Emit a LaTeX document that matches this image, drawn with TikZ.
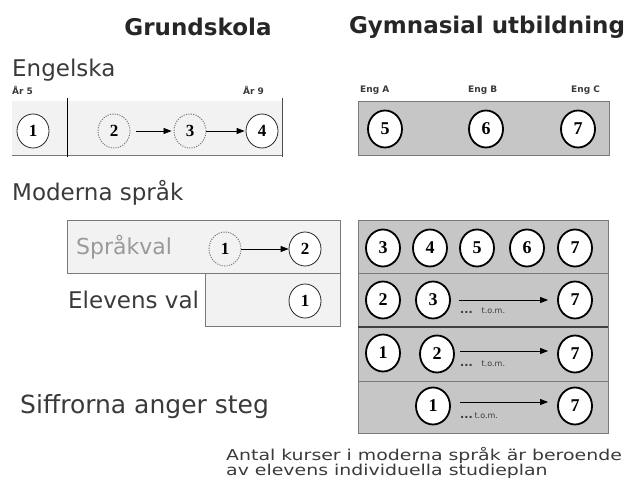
\documentclass[tikz,border=0pt]{standalone}
\usepackage{fontspec}
\setmainfont{DejaVu Sans}
\newfontfamily\numf{Liberation Serif}
\usetikzlibrary{shapes.geometric,arrows.meta}
\definecolor{boxgray}{HTML}{C6C6C6}
\definecolor{lightbox}{HTML}{F2F2F2}
\definecolor{edgegray}{HTML}{7A7A7A}
\definecolor{txtgray}{HTML}{9A9A9A}
\definecolor{txtdark}{HTML}{3A3A3A}
\begin{document}
\begin{tikzpicture}[x=1pt,y=-1pt,
  thinc/.style={ellipse,draw=black!85,line width=0.8pt,fill=white,minimum width=32pt,minimum height=34pt,inner sep=0pt,font=\numf\bfseries\fontsize{17}{17}\selectfont},
  dashc/.style={ellipse,draw=black!55,dash pattern=on 1.2pt off 1.2pt,line width=0.9pt,minimum width=32pt,minimum height=34pt,inner sep=0pt,font=\numf\bfseries\fontsize{17}{17}\selectfont},
  heavyc/.style={ellipse,draw=black,line width=1.8pt,fill=white,minimum width=34pt,minimum height=37pt,inner sep=0pt,font=\numf\bfseries\fontsize{18}{18}\selectfont},
  arr/.style={-{Triangle[length=8pt,width=6pt]},line width=0.8pt},
  head/.style={font=\bfseries\fontsize{23}{26}\selectfont,text=black!85,anchor=center},
  lab/.style={font=\fontsize{23}{26}\selectfont,text=txtdark,anchor=west,inner sep=0pt},
  small/.style={font=\bfseries\fontsize{9}{10}\selectfont,text=txtdark,inner sep=0pt},
  tom/.style={font=\fontsize{8}{9}\selectfont,text=txtdark,inner sep=0pt,anchor=west},
]
\useasboundingbox (0,0) rectangle (631,495);

% headings
\node[head] (hgr) at (198,27) {Grundskola};
\node[head] (hgy) at (487,27) {Gymnasial utbildning};
\node[lab] (eng) at (12,70) {Engelska};

% year / course labels
\node[small,anchor=west] (ar5) at (12,90) {År 5};
\node[small,anchor=west] (ar9) at (243,90) {År 9};
\node[small,anchor=west] (enga) at (360,90) {Eng  A};
\node[small,anchor=west] (engb) at (468,90) {Eng  B};
\node[small,anchor=west] (engc) at (571,90) {Eng  C};

% Engelska boxes
\fill[lightbox] (12,101) rectangle (282,155);
\draw[edgegray,line width=1pt] (12,155) -- (282,155);
\draw[black,line width=1pt] (67,98) -- (67,157);
\draw[black!70,line width=1pt] (282,98) -- (282,157);
\draw[edgegray,fill=boxgray,line width=1pt] (358,101) rectangle (609,155);

\node[thinc] (e1) at (33,131) {1};
\node[dashc] (e2) at (114,131) {2};
\node[dashc] (e3) at (190,131) {3};
\node[thinc] (e4) at (262,131) {4};
\draw[arr,shorten <=6pt,shorten >=2pt] (e2) -- (e3);
\draw[arr,shorten >=1pt] (e3) -- (e4);
\node[heavyc] (e5) at (385,129) {5};
\node[heavyc] (e6) at (486,129) {6};
\node[heavyc] (e7) at (578,129) {7};

% Moderna språk
\node[lab] (mod) at (12,193) {Moderna språk};
\draw[edgegray,fill=lightbox,line width=1pt] (67,220) rectangle (340,273);
\draw[edgegray,fill=lightbox,line width=1pt] (205,273) rectangle (340,326);
\node[lab,text=txtgray,font=\fontsize{22}{26}\selectfont] (sval) at (76,247) {Språkval};
\node[lab] (eval) at (68,300) {Elevens val};
\node[dashc] (s1) at (225,249) {1};
\node[thinc] (s2) at (305,249) {2};
\draw[arr] (s1) -- (s2);
\node[thinc] (v1) at (305,301) {1};

% right grid
\draw[edgegray,fill=boxgray,line width=1pt] (358,220) rectangle (608,433);
\draw[edgegray,line width=1pt] (358,273) -- (608,273);
\draw[black!75,line width=1.2pt] (358,327) -- (608,327);
\draw[edgegray,line width=1pt] (358,381) -- (608,381);

\node[heavyc] (r13) at (383,248) {3};
\node[heavyc] (r14) at (430,248) {4};
\node[heavyc] (r15) at (477,248) {5};
\node[heavyc] (r16) at (527,248) {6};
\node[heavyc] (r17) at (575,248) {7};

\node[heavyc] (r22) at (383,300) {2};
\node[heavyc] (r23) at (433,300) {3};
\node[heavyc] (r27) at (575,300) {7};
\coordinate (a2s) at (459,300);
\draw[arr,shorten >=9pt] (a2s) -- (r27.west |- a2s);
\node[tom] (t2) at (460,311) {\bfseries\fontsize{11}{11}\selectfont ...\hspace{9pt}\mdseries\fontsize{8}{9}\selectfont t.o.m.};

\node[heavyc] (r31) at (383,353) {1};
\node[heavyc] (r32) at (437,354) {2};
\node[heavyc] (r37) at (575,354) {7};
\coordinate (a3s) at (460,351);
\draw[arr,shorten >=9pt] (a3s) -- (r37.west |- a3s);
\node[tom] (t3) at (460,364) {\bfseries\fontsize{11}{11}\selectfont ...\hspace{9pt}\mdseries\fontsize{8}{9}\selectfont t.o.m.};

\node[heavyc] (r41) at (433,406) {1};
\node[heavyc] (r47) at (575,406) {7};
\coordinate (a4s) at (460,402);
\draw[arr,shorten >=9pt] (a4s) -- (r47.west |- a4s);
\node[tom] (t4) at (460,416) {\bfseries\fontsize{11}{11}\selectfont ...\,\mdseries\fontsize{8}{9}\selectfont t.o.m.};

% footnotes
\node[lab,font=\fontsize{25}{28}\selectfont] (siff) at (20,407) {Siffrorna anger steg};
\node[font=\fontsize{15}{14.5}\selectfont,text=txtdark,anchor=north west,align=left,inner sep=0pt] (note) at (226,447) {\scalebox{1.26}[1]{Antal kurser i moderna språk är beroende}\\\scalebox{1.26}[1]{av elevens individuella studieplan}};
\end{tikzpicture}
\end{document}
